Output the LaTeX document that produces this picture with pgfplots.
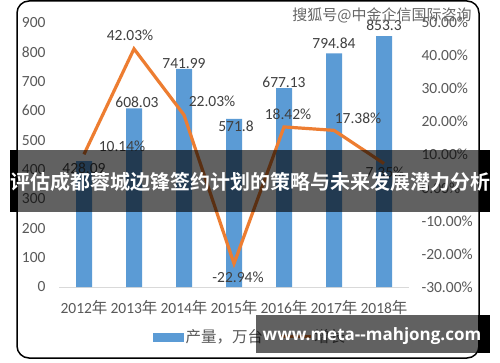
\documentclass[border=0pt]{standalone}
\usepackage{pgfplots}
\pgfplotsset{compat=1.18}
\usepackage{fontspec}
\setmainfont{Carlito}
\newfontfamily\cjk{Noto Sans CJK SC}
\newfontfamily\cjkb{Noto Sans CJK SC Bold}
\newfontfamily\webfont{Open Sans}
\definecolor{barblue}{HTML}{5B9BD5}
\definecolor{lineorange}{HTML}{ED7D31}
\definecolor{tickgray}{HTML}{595959}
\definecolor{labgray}{HTML}{404040}
\definecolor{axgray}{HTML}{D9D9D9}
\begin{document}
\begin{tikzpicture}[x=1pt,y=1pt]
\useasboundingbox (0,0) rectangle (500,362);
\fill[white] (0,0) rectangle (500,362);
\draw[line width=1.5pt, rounded corners=12pt] (17,361) rectangle (479,4);
% left axis: bars
\begin{axis}[
  at={(59pt,75pt)}, anchor=south west, scale only axis,
  width=350pt, height=264.5pt,
  xmin=-0.5, xmax=6.5, ymin=0, ymax=900,
  axis y line*=left, axis x line*=bottom,
  y axis line style={draw=none},
  x axis line style={draw=axgray, line width=1pt, -},
  major tick length=0pt,
  xtick={0,1,2,3,4,5,6},
  xticklabels={2012{\cjk 年},2013{\cjk 年},2014{\cjk 年},2015{\cjk 年},2016{\cjk 年},2017{\cjk 年},2018{\cjk 年}},
  ytick={0,100,200,300,400,500,600,700,800,900},
  yticklabels={0,100,200,300,400,500,600,700,800,900},
  tick label style={font=\fontsize{15.5}{16}\selectfont, text=tickgray},
  yticklabel style={xshift=-10pt},
  xticklabel style={yshift=-10pt},
  clip=false,
  legend columns=2,
  legend style={at={(0.546,-0.189)}, anchor=center, draw=none, fill=none,
    font=\cjk\fontsize{15.5}{16}\selectfont, text=tickgray,
    /tikz/every even column/.append style={column sep=14pt}},
]
\addplot[ybar, bar width=16pt, fill=barblue, draw=none, forget plot] coordinates {
  (0,428.09) (1,608.03) (2,741.99) (3,571.8) (4,677.13) (5,794.84) (6,853.3)};
\addplot[draw=none, mark=none, forget plot, nodes near coords, point meta=explicit symbolic,
  nodes near coords style={anchor=center, font=\fontsize{15.5}{16}\selectfont, text=labgray}]
  coordinates {
  (0,404)[428.09] (1.06,628)[608.03] (2,761)[741.99] (3.04,547)[571.8]
  (4,696)[677.13] (5,829)[794.84] (6,890)[853.3]};
\addlegendimage{legend image code/.code={\fill[barblue] (0pt,-4pt) rectangle (30pt,4pt);}}
\addlegendentry{产量，万台}
\addlegendimage{legend image code/.code={\draw[lineorange, line width=3pt] (0pt,0pt) -- (30pt,0pt);}}
\addlegendentry{增长}
\end{axis}
% right axis: growth line
\begin{axis}[
  at={(59pt,75pt)}, anchor=south west, scale only axis,
  width=350pt, height=264.5pt,
  xmin=-0.5, xmax=6.5, ymin=-30, ymax=50,
  axis y line*=right, axis x line=none,
  y axis line style={draw=none},
  major tick length=0pt,
  ytick={-30,-20,-10,0,10,20,30,40,50},
  yticklabels={-30.00\%,-20.00\%,-10.00\%,0.00\%,10.00\%,20.00\%,30.00\%,40.00\%,50.00\%},
  yticklabel style={font=\fontsize{15.5}{16}\selectfont, text=tickgray, anchor=west, xshift=9pt},
  clip=false,
]
\addplot[lineorange, line width=3.2pt, mark=none] coordinates {
  (0,10.14) (1,42.03) (2,22.03) (3,-22.94) (4,18.42) (5,17.38) (6,7.35)};
\addplot[draw=none, mark=none, nodes near coords, point meta=explicit symbolic,
  nodes near coords style={anchor=center, font=\fontsize{15.5}{16}\selectfont, text=labgray}]
  coordinates {
  (0.76,12.7)[10.14\%] (0.92,46.1)[42.03\%] (2.56,26.1)[22.03\%] (3.08,-27.0)[-22.94\%]
  (4.08,22.1)[18.42\%] (5.48,20.9)[17.38\%] (6.02,4.85)[7.35\%]};
\end{axis}
% overlays
\node[text=gray!80!black, font=\cjk\fontsize{15}{15}\selectfont] at (382,347) {搜狐号@中金企信国际咨询};
\fill[black] (10,212) rectangle (17,150);
\fill[black, opacity=0.62] (17,212) rectangle (480,150);
\fill[black] (480,212) rectangle (490,150);
\node[text=white, font=\cjkb\fontsize{20}{20}\selectfont] at (250,180) {评估成都蓉城边锋签约计划的策略与未来发展潜力分析};
\fill[black, opacity=0.62] (256,47) rectangle (478,9);
\fill[black] (478,47) rectangle (490,9);
\node[text=white, font=\webfont\bfseries\fontsize{17}{17}\selectfont] at (372,26) {www.meta--mahjong.com};
\end{tikzpicture}
\end{document}
